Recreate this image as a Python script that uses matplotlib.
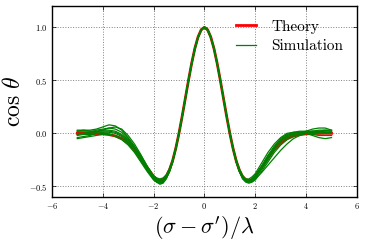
import numpy as np
import matplotlib
matplotlib.use("Agg")
import matplotlib.pyplot as plt

plt.rcParams['font.family'] = 'serif'
plt.rcParams['font.serif'] = ['cmr10']
plt.rcParams['mathtext.fontset'] = 'cm'
plt.rcParams['axes.formatter.use_mathtext'] = True

# offsets (sigma - sigma')/lambda: 0.25 steps in the tails, 0.125 steps around the peak
x = np.concatenate([np.arange(-5, -1.99, 0.25),
                    np.arange(-1.875, 1.876, 0.125),
                    np.arange(2, 5.001, 0.25)])

theory = [0.000, 0.000, -0.001, -0.002, -0.005, -0.012, -0.025, -0.049, -0.089, -0.150, -0.231, -0.323, -0.406,
          -0.434, -0.446, -0.438, -0.406, -0.346, -0.258, -0.141, 0.000, 0.160, 0.330, 0.501, 0.662, 0.801, 0.909, 0.977,
          1.000,
          0.977, 0.909, 0.801, 0.662, 0.501, 0.330, 0.160, 0.000, -0.141, -0.258, -0.346, -0.406, -0.438, -0.446, -0.434,
          -0.406, -0.323, -0.231, -0.150, -0.089, -0.049, -0.025, -0.012, -0.005, -0.002, -0.001, 0.000, 0.000]

sim_1 = [0.02, 0.03, 0.03, 0.04, 0.06, 0.08, 0.07, 0.03, -0.04, -0.12, -0.21, -0.31, -0.40,
         -0.43, -0.44, -0.43, -0.40, -0.34, -0.25, -0.13, 0.01, 0.17, 0.34, 0.51, 0.67, 0.81, 0.91, 0.98,
         1.00,
         0.98, 0.91, 0.80, 0.66, 0.50, 0.33, 0.16, 0.00, -0.14, -0.26, -0.35, -0.41, -0.44, -0.45, -0.43,
         -0.40, -0.31, -0.21, -0.13, -0.07, -0.03, -0.01, 0.00, 0.01, 0.02, 0.02, 0.01, 0.00]
sim_2 = [-0.01, 0.00, 0.01, 0.03, 0.04, 0.05, 0.04, 0.01, -0.05, -0.13, -0.22, -0.32, -0.41,
         -0.44, -0.46, -0.45, -0.42, -0.36, -0.27, -0.15, -0.01, 0.15, 0.32, 0.49, 0.65, 0.79, 0.90, 0.97,
         1.00,
         0.97, 0.90, 0.79, 0.65, 0.49, 0.32, 0.15, -0.01, -0.15, -0.27, -0.36, -0.42, -0.45, -0.46, -0.45,
         -0.43, -0.37, -0.30, -0.23, -0.16, -0.10, -0.05, -0.02, 0.00, 0.01, 0.02, 0.03, 0.03]
sim_3 = [-0.05, -0.04, -0.03, -0.02, -0.01, -0.01, -0.02, -0.05, -0.10, -0.17, -0.26, -0.35, -0.43,
         -0.46, -0.47, -0.46, -0.42, -0.36, -0.27, -0.15, -0.01, 0.15, 0.32, 0.49, 0.65, 0.79, 0.90, 0.97,
         1.00,
         0.98, 0.91, 0.80, 0.66, 0.50, 0.33, 0.16, 0.00, -0.14, -0.25, -0.34, -0.40, -0.43, -0.44, -0.43,
         -0.40, -0.31, -0.21, -0.12, -0.05, -0.01, 0.01, 0.01, 0.00, -0.02, -0.04, -0.05, -0.04]
sim_4 = [0.02, 0.02, 0.02, 0.02, 0.02, 0.02, 0.01, -0.02, -0.07, -0.14, -0.23, -0.33, -0.42,
         -0.45, -0.46, -0.45, -0.41, -0.35, -0.26, -0.14, 0.00, 0.16, 0.33, 0.50, 0.66, 0.80, 0.91, 0.98,
         1.00,
         0.98, 0.91, 0.80, 0.66, 0.50, 0.33, 0.16, 0.00, -0.14, -0.26, -0.35, -0.41, -0.45, -0.46, -0.45,
         -0.42, -0.33, -0.23, -0.14, -0.07, -0.02, 0.00, 0.01, 0.02, 0.04, 0.05, 0.05, 0.03]
sim_5 = [-0.04, -0.03, -0.02, 0.00, 0.01, 0.01, 0.00, -0.03, -0.08, -0.15, -0.24, -0.34, -0.43,
         -0.46, -0.48, -0.47, -0.43, -0.36, -0.27, -0.15, 0.00, 0.16, 0.33, 0.50, 0.66, 0.80, 0.91, 0.98,
         1.00,
         0.98, 0.91, 0.80, 0.66, 0.50, 0.33, 0.16, 0.00, -0.15, -0.27, -0.36, -0.43, -0.46, -0.47, -0.46,
         -0.44, -0.36, -0.27, -0.18, -0.11, -0.06, -0.03, -0.01, 0.00, 0.01, 0.01, 0.02, 0.02]
sim_6 = [0.03, 0.03, 0.02, 0.02, 0.03, 0.03, 0.02, -0.01, -0.06, -0.13, -0.22, -0.32, -0.41,
         -0.44, -0.45, -0.44, -0.41, -0.35, -0.26, -0.14, 0.01, 0.17, 0.34, 0.51, 0.67, 0.81, 0.91, 0.98,
         1.00,
         0.98, 0.91, 0.81, 0.67, 0.51, 0.34, 0.17, 0.01, -0.13, -0.25, -0.34, -0.40, -0.43, -0.43, -0.41,
         -0.38, -0.28, -0.18, -0.10, -0.04, 0.00, 0.01, 0.02, 0.02, 0.02, 0.01, 0.01, 0.01]
sim_7 = [-0.02, -0.01, -0.01, 0.00, 0.00, -0.01, -0.03, -0.06, -0.11, -0.18, -0.27, -0.36, -0.44,
         -0.46, -0.47, -0.46, -0.42, -0.36, -0.27, -0.15, -0.01, 0.15, 0.32, 0.49, 0.65, 0.79, 0.90, 0.97,
         1.00,
         0.97, 0.90, 0.79, 0.65, 0.49, 0.32, 0.15, -0.01, -0.15, -0.27, -0.36, -0.42, -0.45, -0.46, -0.45,
         -0.42, -0.34, -0.25, -0.16, -0.09, -0.04, -0.01, 0.00, 0.00, -0.01, -0.02, -0.02, -0.02]
sim_8 = [0.00, 0.00, 0.00, 0.01, 0.03, 0.05, 0.06, 0.04, -0.02, -0.10, -0.20, -0.31, -0.40,
         -0.42, -0.43, -0.42, -0.39, -0.33, -0.25, -0.13, 0.01, 0.17, 0.34, 0.51, 0.67, 0.81, 0.91, 0.98,
         1.00,
         0.98, 0.91, 0.81, 0.67, 0.51, 0.34, 0.17, 0.01, -0.13, -0.25, -0.34, -0.41, -0.44, -0.45, -0.44,
         -0.41, -0.32, -0.22, -0.13, -0.06, -0.02, 0.00, 0.01, 0.01, 0.02, 0.03, 0.03, 0.02]

simulations = [sim_1, sim_2, sim_3, sim_4, sim_5, sim_6, sim_7, sim_8]

fig = plt.figure(figsize=(3.65, 2.42), dpi=100)
ax = fig.add_axes([0.142, 0.186, 0.836, 0.789])

ax.plot(x, theory, color='red', lw=2, label='Theory')
for i, s in enumerate(simulations):
    ax.plot(x, s, color='green', lw=0.9, label='Simulation' if i == 0 else None)

ax.set_xlim(-6, 6)
ax.set_ylim(-0.6, 1.2)
ax.set_xticks([-6, -4, -2, 0, 2, 4, 6])
ax.set_yticks([-0.5, 0.0, 0.5, 1.0])
ax.tick_params(direction='in', top=True, right=True, labelsize=6, length=3, width=0.5, pad=3)
ax.grid(True, linestyle=':', color='gray', lw=0.7)
for sp in ax.spines.values():
    sp.set_linewidth(1.0)

ax.set_xlabel(r"$(\sigma-\sigma')/\lambda$", fontsize=16, labelpad=2)
ax.set_ylabel(r"$\cos\,\theta$", fontsize=17, labelpad=3)

ax.legend(loc='upper right', frameon=False, fontsize=11, handlelength=1.3,
          handletextpad=1.0, borderaxespad=0.5, labelspacing=0.35)

fig.savefig('out.png', dpi=100)
